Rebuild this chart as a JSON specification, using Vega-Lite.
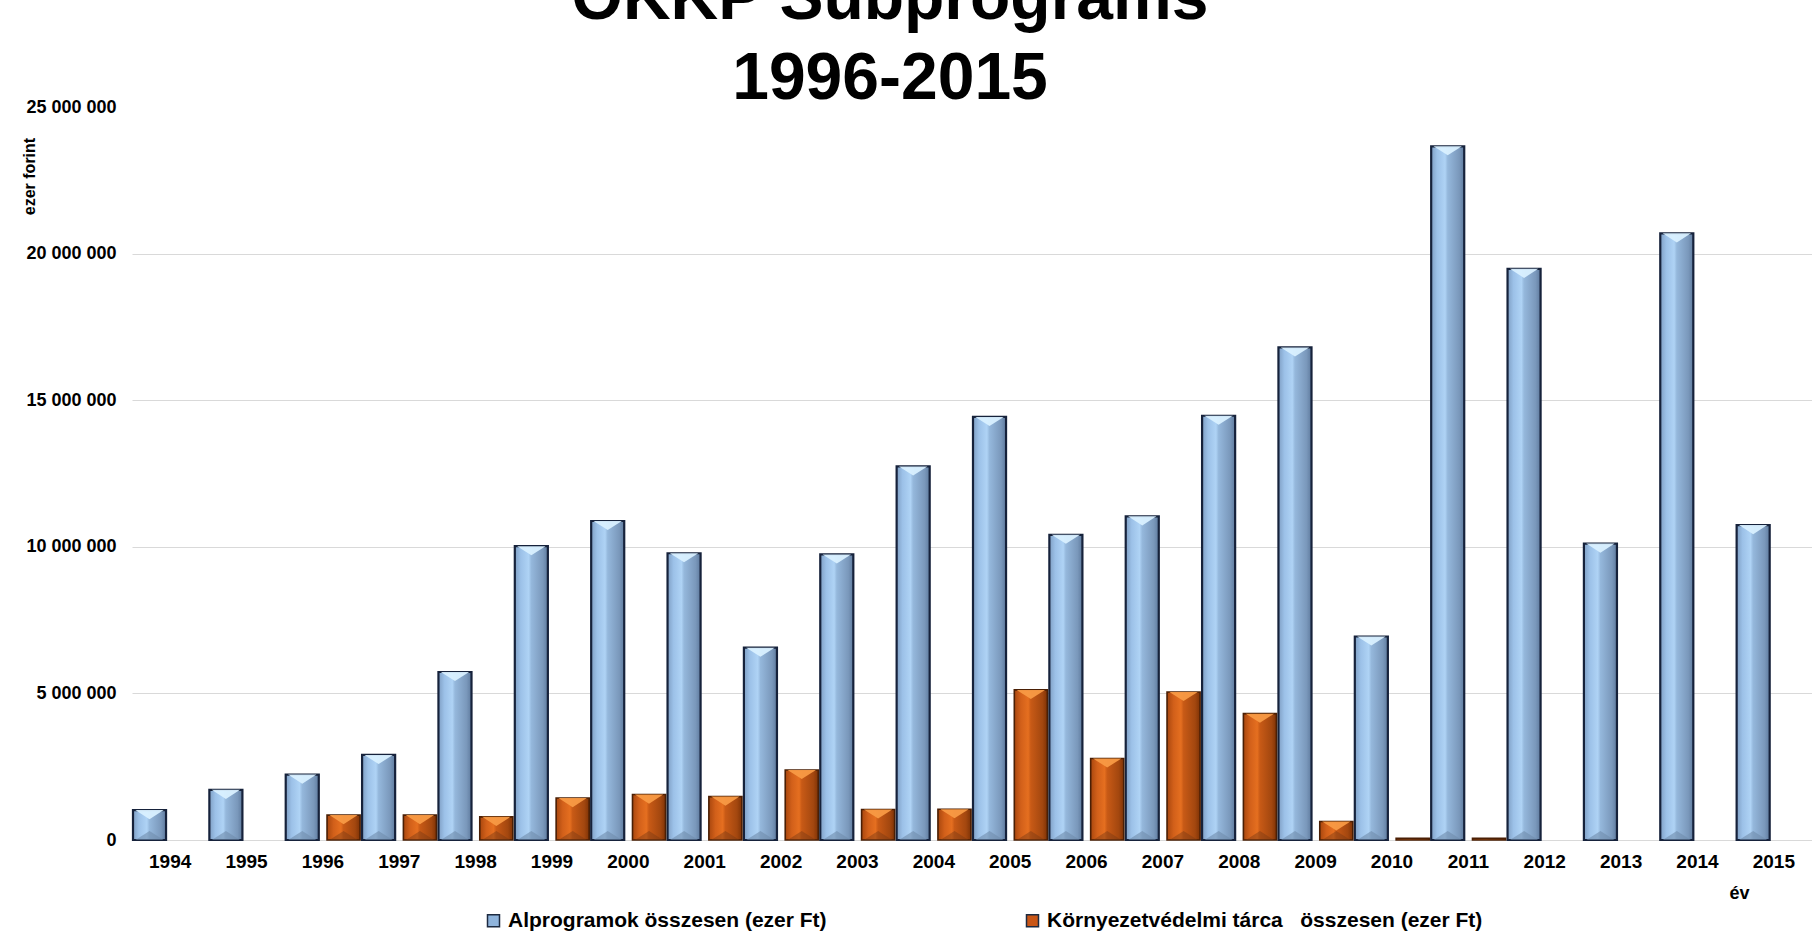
{
  "$schema": "https://vega.github.io/schema/vega-lite/v6.json",
  "width": 1680,
  "height": 733,
  "autosize": "none",
  "padding": {"left": 132, "top": 107, "right": 0, "bottom": 103},
  "background": "white",
  "title": {
    "text": ["OKKP Subprograms", "1996-2015"],
    "font": "Liberation Sans",
    "fontSize": 66,
    "fontWeight": "bold",
    "color": "black",
    "lineHeight": 80,
    "anchor": "middle",
    "dx": -82,
    "dy": 15,
    "offset": 0,
    "frame": "group"
  },
  "config": {
    "font": "Liberation Sans",
    "view": {"stroke": null},
    "locale": {"number": {"decimal": ",", "thousands": "\u00a0", "grouping": [3], "currency": ["", " Ft"]}}
  },
  "data": {
    "values": [
      {"ev": "1994", "s": "Alprogramok összesen (ezer Ft)", "v": 1020000},
      {"ev": "1995", "s": "Alprogramok összesen (ezer Ft)", "v": 1710000},
      {"ev": "1996", "s": "Alprogramok összesen (ezer Ft)", "v": 2230000},
      {"ev": "1997", "s": "Alprogramok összesen (ezer Ft)", "v": 2900000},
      {"ev": "1998", "s": "Alprogramok összesen (ezer Ft)", "v": 5730000},
      {"ev": "1999", "s": "Alprogramok összesen (ezer Ft)", "v": 10020000},
      {"ev": "2000", "s": "Alprogramok összesen (ezer Ft)", "v": 10880000},
      {"ev": "2001", "s": "Alprogramok összesen (ezer Ft)", "v": 9780000},
      {"ev": "2002", "s": "Alprogramok összesen (ezer Ft)", "v": 6560000},
      {"ev": "2003", "s": "Alprogramok összesen (ezer Ft)", "v": 9740000},
      {"ev": "2004", "s": "Alprogramok összesen (ezer Ft)", "v": 12740000},
      {"ev": "2005", "s": "Alprogramok összesen (ezer Ft)", "v": 14430000},
      {"ev": "2006", "s": "Alprogramok összesen (ezer Ft)", "v": 10410000},
      {"ev": "2007", "s": "Alprogramok összesen (ezer Ft)", "v": 11040000},
      {"ev": "2008", "s": "Alprogramok összesen (ezer Ft)", "v": 14470000},
      {"ev": "2009", "s": "Alprogramok összesen (ezer Ft)", "v": 16800000},
      {"ev": "2010", "s": "Alprogramok összesen (ezer Ft)", "v": 6940000},
      {"ev": "2011", "s": "Alprogramok összesen (ezer Ft)", "v": 23660000},
      {"ev": "2012", "s": "Alprogramok összesen (ezer Ft)", "v": 19480000},
      {"ev": "2013", "s": "Alprogramok összesen (ezer Ft)", "v": 10110000},
      {"ev": "2014", "s": "Alprogramok összesen (ezer Ft)", "v": 20690000},
      {"ev": "2015", "s": "Alprogramok összesen (ezer Ft)", "v": 10740000},
      {"ev": "1996", "s": "Környezetvédelmi tárca\u00a0\u00a0 összesen (ezer Ft)", "v": 850000},
      {"ev": "1997", "s": "Környezetvédelmi tárca\u00a0\u00a0 összesen (ezer Ft)", "v": 850000},
      {"ev": "1998", "s": "Környezetvédelmi tárca\u00a0\u00a0 összesen (ezer Ft)", "v": 790000},
      {"ev": "1999", "s": "Környezetvédelmi tárca\u00a0\u00a0 összesen (ezer Ft)", "v": 1430000},
      {"ev": "2000", "s": "Környezetvédelmi tárca\u00a0\u00a0 összesen (ezer Ft)", "v": 1550000},
      {"ev": "2001", "s": "Környezetvédelmi tárca\u00a0\u00a0 összesen (ezer Ft)", "v": 1480000},
      {"ev": "2002", "s": "Környezetvédelmi tárca\u00a0\u00a0 összesen (ezer Ft)", "v": 2390000},
      {"ev": "2003", "s": "Környezetvédelmi tárca\u00a0\u00a0 összesen (ezer Ft)", "v": 1040000},
      {"ev": "2004", "s": "Környezetvédelmi tárca\u00a0\u00a0 összesen (ezer Ft)", "v": 1050000},
      {"ev": "2005", "s": "Környezetvédelmi tárca\u00a0\u00a0 összesen (ezer Ft)", "v": 5120000},
      {"ev": "2006", "s": "Környezetvédelmi tárca\u00a0\u00a0 összesen (ezer Ft)", "v": 2780000},
      {"ev": "2007", "s": "Környezetvédelmi tárca\u00a0\u00a0 összesen (ezer Ft)", "v": 5050000},
      {"ev": "2008", "s": "Környezetvédelmi tárca\u00a0\u00a0 összesen (ezer Ft)", "v": 4310000},
      {"ev": "2009", "s": "Környezetvédelmi tárca\u00a0\u00a0 összesen (ezer Ft)", "v": 630000},
      {"ev": "2010", "s": "Környezetvédelmi tárca\u00a0\u00a0 összesen (ezer Ft)", "v": 60000},
      {"ev": "2011", "s": "Környezetvédelmi tárca\u00a0\u00a0 összesen (ezer Ft)", "v": 60000}
    ]
  },
  "encoding": {
    "x": {
      "field": "ev",
      "type": "ordinal",
      "scale": {"paddingInner": 0.026, "paddingOuter": 0.013},
      "axis": {
        "title": "év",
        "labelAngle": 0,
        "domain": false,
        "ticks": false,
        "grid": false,
        "labelPadding": 12,
        "labelFont": "Liberation Sans",
        "labelFontSize": 19,
        "labelFontWeight": "bold",
        "labelColor": "black",
        "titleFont": "Liberation Sans",
        "titleFontSize": 18,
        "titleFontWeight": "bold",
        "titleColor": "black",
        "titleX": 1607,
        "titleY": 53,
        "titleAlign": "center",
        "titleBaseline": "middle"
      }
    },
    "xOffset": {
      "field": "s",
      "type": "nominal",
      "scale": {
        "domain": ["Alprogramok összesen (ezer Ft)", "Környezetvédelmi tárca\u00a0\u00a0 összesen (ezer Ft)"],
        "paddingInner": 0.2,
        "paddingOuter": 0
      }
    },
    "y": {
      "field": "v",
      "type": "quantitative",
      "scale": {"domain": [0, 25000000], "nice": false},
      "axis": {
        "title": "ezer forint",
        "values": [0, 5000000, 10000000, 15000000, 20000000, 25000000],
        "format": ",.0f",
        "domain": false,
        "ticks": false,
        "labelPadding": 16,
        "labelFont": "Liberation Sans",
        "labelFontSize": 18,
        "labelFontWeight": "bold",
        "labelColor": "black",
        "gridColor": "#d9d9d9",
        "gridWidth": 1.2,
        "gridOpacity": {"condition": {"test": "datum.value == 25000000", "value": 0}, "value": 1},
        "titleFont": "Liberation Sans",
        "titleFontSize": 16,
        "titleFontWeight": "bold",
        "titleColor": "black",
        "titleAngle": 270,
        "titleX": -103,
        "titleY": 69,
        "titleAlign": "center",
        "titleBaseline": "middle"
      }
    }
  },
  "layer": [
    {
      "mark": {"type": "bar"},
      "encoding": {
        "color": {
          "field": "s",
          "type": "nominal",
          "scale": {
            "domain": ["Alprogramok összesen (ezer Ft)", "Környezetvédelmi tárca\u00a0\u00a0 összesen (ezer Ft)"],
            "range": ["#8fb4dc", "#c95616"]
          },
          "legend": {
            "title": null,
            "orient": "none",
            "legendX": 351,
            "legendY": 803,
            "direction": "horizontal",
            "symbolType": "square",
            "symbolSize": 144,
            "symbolStrokeColor": "#1d2a40",
            "symbolStrokeWidth": 1.5,
            "labelFont": "Liberation Sans",
            "labelFontSize": 21,
            "labelFontWeight": "bold",
            "labelColor": "black",
            "labelOffset": 4,
            "columnPadding": 195,
            "labelLimit": 700
          }
        }
      }
    },
    {
      "transform": [{"filter": "indexof(datum.s, 'Alprog') == 0"}],
      "mark": {
        "type": "bar",
        "fill": {
          "gradient": "linear",
          "x1": 0, "y1": 0, "x2": 1, "y2": 0,
          "stops": [
            {"offset": 0, "color": "#7f9fc4"},
            {"offset": 0.18, "color": "#9cc1e8"},
            {"offset": 0.42, "color": "#afd3f5"},
            {"offset": 0.5, "color": "#95b8dc"},
            {"offset": 0.85, "color": "#7a98bb"},
            {"offset": 1, "color": "#5f7b9e"}
          ]
        },
        "stroke": "#16223b",
        "strokeWidth": 2.2
      }
    },
    {
      "transform": [{"filter": "indexof(datum.s, 'Környezet') == 0"}],
      "mark": {
        "type": "bar",
        "fill": {
          "gradient": "linear",
          "x1": 0, "y1": 0, "x2": 1, "y2": 0,
          "stops": [
            {"offset": 0, "color": "#a9470e"},
            {"offset": 0.2, "color": "#d2601a"},
            {"offset": 0.42, "color": "#e56f20"},
            {"offset": 0.5, "color": "#c85a16"},
            {"offset": 0.85, "color": "#a3470f"},
            {"offset": 1, "color": "#7f3306"}
          ]
        },
        "stroke": "#4a1f05",
        "strokeWidth": 1.6
      }
    },
    {
      "transform": [{"filter": "indexof(datum.s, 'Alprog') == 0 && datum.v > 300000"}],
      "mark": {"type": "point", "shape": "M-0.86,0 L0.86,0 L0,0.55 Z", "size": 1089, "filled": true, "fill": "#d9f0ff", "opacity": 0.95, "strokeWidth": 0},
      "encoding": {"y": {"field": "v", "type": "quantitative"}}
    },
    {
      "transform": [{"filter": "indexof(datum.s, 'Környezet') == 0 && datum.v > 300000"}],
      "mark": {"type": "point", "shape": "M-0.86,0 L0.86,0 L0,0.55 Z", "size": 1089, "filled": true, "fill": "#f89a45", "opacity": 0.95, "strokeWidth": 0},
      "encoding": {"y": {"field": "v", "type": "quantitative"}}
    },
    {
      "transform": [{"filter": "indexof(datum.s, 'Alprog') == 0 && datum.v > 300000"}],
      "mark": {"type": "point", "shape": "M-0.86,0 L0.86,0 L0,-0.55 Z", "size": 1089, "filled": true, "fill": "#6f8cab", "opacity": 0.6, "strokeWidth": 0},
      "encoding": {"y": {"datum": 0, "type": "quantitative"}}
    },
    {
      "transform": [{"filter": "indexof(datum.s, 'Környezet') == 0 && datum.v > 300000"}],
      "mark": {"type": "point", "shape": "M-0.86,0 L0.86,0 L0,-0.55 Z", "size": 1089, "filled": true, "fill": "#7a3a14", "opacity": 0.45, "strokeWidth": 0},
      "encoding": {"y": {"datum": 0, "type": "quantitative"}}
    }
  ]
}
